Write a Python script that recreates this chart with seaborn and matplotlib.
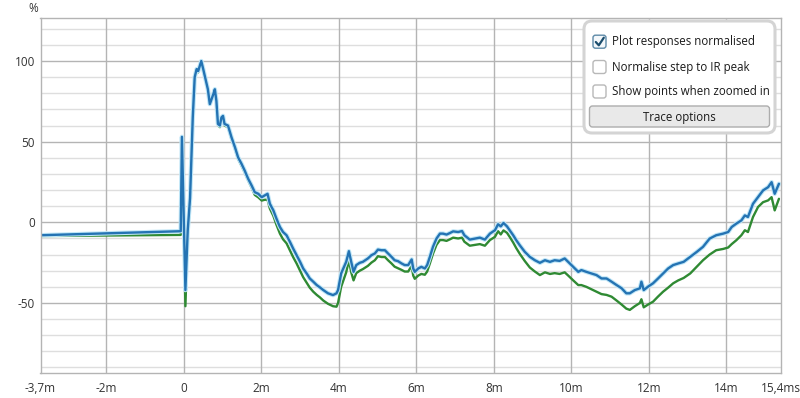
import matplotlib
matplotlib.use("Agg")
import matplotlib.pyplot as plt
import matplotlib.patheffects as pe
from matplotlib.patches import FancyBboxPatch
import seaborn as sns
import pandas as pd
import numpy as np

# ---- data (time in ms, values in %) ----
t_ms = [-3.7, -0.08, -0.05, 0.04, 0.10, 0.16, 0.23, 0.28, 0.33, 0.37, 0.41, 0.45, 0.50, 0.59, 0.62, 0.67,
        0.76, 0.80, 0.84, 0.88, 0.93, 0.97, 1.01, 1.05, 1.14, 1.23, 1.32, 1.40, 1.49, 1.57, 1.66, 1.75,
        1.83, 1.92, 2.01, 2.09, 2.16, 2.22, 2.31, 2.39, 2.48, 2.56, 2.65, 2.74, 2.82, 2.91, 3.00, 3.08,
        3.17, 3.25, 3.34, 3.43, 3.51, 3.60, 3.72, 3.85, 3.94, 3.98, 4.06, 4.19, 4.26, 4.32, 4.38, 4.45,
        4.54, 4.62, 4.75, 4.84, 4.93, 5.01, 5.10, 5.19, 5.27, 5.36, 5.44, 5.53, 5.62, 5.70, 5.79, 5.88,
        5.92, 5.96, 6.05, 6.13, 6.22, 6.28, 6.35, 6.43, 6.52, 6.61, 6.69, 6.78, 6.87, 6.95, 7.08, 7.18,
        7.24, 7.38, 7.51, 7.64, 7.77, 7.90, 8.03, 8.11, 8.18, 8.25, 8.34, 8.41, 8.50, 8.58, 8.67, 8.80,
        8.93, 9.06, 9.19, 9.32, 9.45, 9.57, 9.70, 9.83, 9.92, 10.05, 10.18, 10.26, 10.39, 10.52, 10.65,
        10.78, 10.91, 11.04, 11.17, 11.30, 11.42, 11.51, 11.64, 11.77, 11.81, 11.87, 11.98, 12.11, 12.24,
        12.37, 12.50, 12.63, 12.76, 12.90, 13.07, 13.24, 13.40, 13.57, 13.74, 13.92, 14.05, 14.14, 14.26,
        14.39, 14.48, 14.56, 14.69, 14.82, 14.95, 15.08, 15.17, 15.25, 15.36]

blue = [-8.0, -5.5, 53.0, -42.0, -5.0, 15.0, 65.0, 90.0, 95.0, 93.8, 96.9, 100.0, 95.0, 85.6, 82.5, 73.3,
        79.4, 82.5, 75.3, 61.0, 60.0, 65.0, 66.0, 61.0, 60.0, 52.7, 46.5, 40.3, 36.2, 32.1, 27.0, 22.8,
        18.7, 17.7, 15.6, 16.7, 17.7, 11.5, 7.4, 2.3, -2.9, -6.0, -8.0, -12.2, -16.2, -20.4, -24.5, -28.6,
        -31.7, -34.8, -36.8, -38.9, -40.3, -42.0, -44.0, -45.1, -44.0, -42.0, -31.7, -24.5, -17.9, -24.5, -30.7, -26.5,
        -25.1, -24.5, -22.4, -20.4, -19.3, -16.9, -17.3, -17.3, -19.3, -21.4, -23.5, -24.1, -25.5, -26.5, -26.5, -23.0,
        -28.6, -30.7, -28.6, -27.6, -28.6, -26.5, -21.4, -15.2, -10.1, -7.0, -7.0, -7.6, -6.6, -5.6, -6.0, -5.4,
        -8.0, -10.7, -10.1, -9.5, -10.7, -7.0, -4.9, -1.2, -2.5, -0.4, -2.5, -4.9, -8.0, -11.1, -14.2, -18.3,
        -21.4, -23.5, -25.1, -23.5, -24.5, -23.5, -23.9, -22.4, -24.5, -27.6, -30.7, -29.6, -30.7, -31.7, -32.7,
        -34.8, -34.8, -36.8, -38.9, -40.9, -44.0, -44.0, -42.0, -40.9, -36.8, -42.0, -39.9, -37.8, -34.8,
        -31.7, -28.6, -26.5, -25.5, -24.5, -21.4, -18.3, -15.2, -10.1, -8.0, -7.0, -6.0, -2.9, -0.8,
        1.2, 4.3, 3.3, 11.5, 15.6, 19.8, 21.8, 24.9, 17.7, 23.9]

green = [-8.5, -7.8, 52.0, -52.0, -8.0, 12.0, 64.0, 89.0, 94.0, 93.0, 96.0, 99.0, 94.0, 85.0, 82.0, 73.0,
         79.0, 82.0, 75.0, 60.5, 59.0, 63.5, 64.0, 60.0, 59.0, 51.7, 45.5, 39.3, 35.0, 31.0, 26.0, 21.5,
         17.0, 15.5, 13.5, 14.0, 14.0, 8.5, 4.0, -1.5, -7.0, -10.5, -13.0, -17.5, -21.5, -25.5, -30.0, -34.0,
         -37.5, -40.5, -43.0, -45.0, -46.5, -48.5, -50.5, -52.0, -52.3, -50.0, -40.0, -31.0, -23.5, -31.0, -36.0, -31.5,
         -30.0, -29.0, -27.0, -25.0, -23.5, -21.0, -21.5, -21.5, -23.5, -25.5, -27.5, -28.5, -29.5, -30.5, -30.5, -27.0,
         -33.0, -35.0, -33.0, -32.0, -32.5, -30.5, -25.5, -19.5, -14.0, -11.0, -11.0, -11.5, -10.5, -9.5, -10.0, -9.5,
         -12.0, -14.5, -14.0, -13.5, -14.5, -11.0, -9.0, -5.5, -7.5, -5.0, -6.5, -9.0, -12.5, -16.0, -19.5, -24.0,
         -28.0, -30.5, -32.7, -31.0, -32.0, -31.5, -32.0, -31.0, -33.0, -36.0, -38.9, -38.9, -40.0, -41.5, -43.0,
         -44.5, -45.0, -46.1, -48.5, -51.0, -53.5, -54.3, -52.0, -50.0, -47.7, -52.7, -51.0, -49.2, -46.0,
         -43.0, -40.5, -37.8, -36.0, -34.5, -31.7, -27.5, -23.5, -20.0, -17.3, -16.5, -15.6, -13.5, -11.1,
         -8.0, -4.9, -6.0, 3.3, 9.5, 12.5, 13.6, 15.6, 7.4, 14.6]

x_tick_values = [-3.7, -2, 0, 2, 4, 6, 8, 10, 12, 14, 15.4]
x_tick_labels = ["-3,7m", "-2m", "0", "2m", "4m", "6m", "8m", "10m", "12m", "14m", "15,4ms"]
y_tick_values = [-50, 0, 50, 100]
y_tick_labels = ["-50", "0", "50", "100"]

legend_items = ["Plot responses normalised", "Normalise step to IR peak", "Show points when zoomed in"]
legend_checked = [True, False, False]
button_label = "Trace options"

# ---- figure ----
sns.set_style("white")
plt.rcParams["font.family"] = ["Open Sans", "DejaVu Sans"]

W, H = 800, 398
fig = plt.figure(figsize=(W / 100, H / 100), dpi=100)
L, R, T, B = 40.5, 780.5, 18.3, 373.3
ax = fig.add_axes([L / W, 1 - B / H, (R - L) / W, (B - T) / H])

df = pd.concat([
    pd.DataFrame({"t": t_ms, "v": green, "s": "green"}),
    pd.DataFrame({"t": t_ms, "v": blue, "s": "blue"}),
])
sns.lineplot(data=df, x="t", y="v", hue="s", hue_order=["green", "blue"],
             palette={"green": "#2f8a33", "blue": "#2473b3"}, estimator=None, sort=False,
             legend=False, linewidth=1.7, ax=ax)
lines = ax.get_lines()
lines[1].set_path_effects([pe.Stroke(linewidth=3.2, foreground="#bfe6f7"), pe.Normal()])

ax.set_xlim(-3.7, 15.4)
ax.set_ylim(-93.6, 126.5)

# grid
for yv in range(-90, 130, 10):
    major = (yv % 50 == 0)
    ax.axhline(yv, color="#b4b4b4" if major else "#dedede", lw=1.0, zorder=0)
for xv in [-2, 0, 2, 4, 6, 8, 10, 12, 14]:
    ax.axvline(xv, color="#b4b4b4", lw=1.0, zorder=0)

ax.set_xticks(x_tick_values)
ax.set_xticklabels(x_tick_labels)
ax.set_yticks(y_tick_values)
ax.set_yticklabels(y_tick_labels)
ax.tick_params(axis="both", length=0, labelsize=8.5, colors="#333333")
ax.tick_params(axis="x", pad=6)
ax.tick_params(axis="y", pad=4)
ax.set_xlabel("")
ax.set_ylabel("")
for sp in ax.spines.values():
    sp.set_color("#b4b4b4")
    sp.set_linewidth(1.0)

fig.text(33 / W, 1 - 8 / H, "%", ha="center", va="center", fontsize=8.5, color="#333333")

# ---- overlay legend panel (pixel coords) ----
ov = fig.add_axes([0, 0, 1, 1])
ov.set_xlim(0, W)
ov.set_ylim(H, 0)
ov.axis("off")

panel = FancyBboxPatch((584, 21), 191, 112, boxstyle="round,pad=0,rounding_size=8",
                       fc="white", ec="#d4d4d4", lw=2.2)
ov.add_patch(panel)
row_y = [41.7, 67.0, 91.5]
for label, checked, y in zip(legend_items, legend_checked, row_y):
    box = FancyBboxPatch((593, y - 6.5), 13, 13, boxstyle="round,pad=0,rounding_size=2.5",
                         fc="#f4f8fb" if checked else "white",
                         ec="#5e8aa8" if checked else "#b8b8b8", lw=1.0)
    ov.add_patch(box)
    if checked:
        ov.plot([595.8, 598.8, 603.8], [y + 0.3, y + 3.6, y - 4.0], color="#1c4e6e", lw=1.6,
                solid_capstyle="round", solid_joinstyle="round")
    ov.text(612.5, y, label, ha="left", va="center", fontsize=8.3, color="#1a1a1a")

btn = FancyBboxPatch((589.5, 106), 180, 21, boxstyle="round,pad=0,rounding_size=3",
                     fc="#e9e9e9", ec="#adadad", lw=1.0)
ov.add_patch(btn)
ov.text(679.5, 117, button_label, ha="center", va="center", fontsize=8.3, color="#1a1a1a")

fig.savefig("out.png", dpi=100)
